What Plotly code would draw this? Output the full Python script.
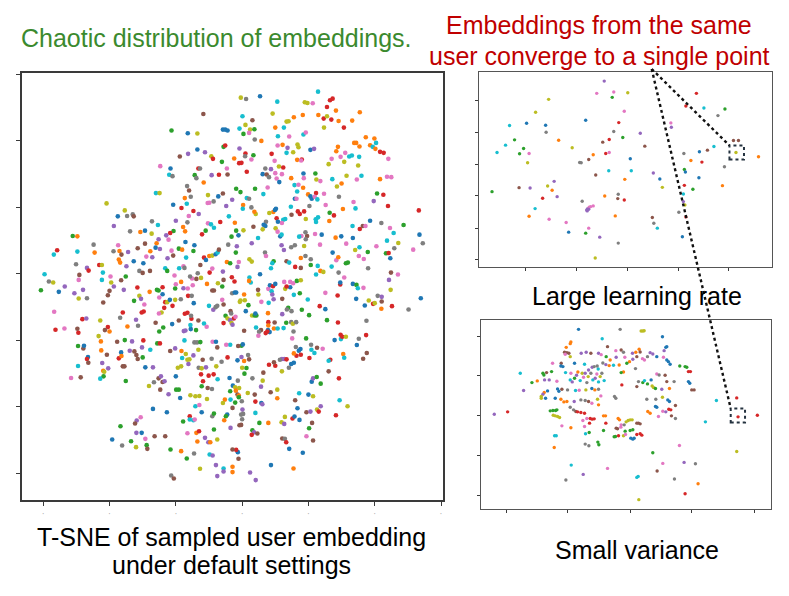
import plotly.graph_objects as go

# colour per sampled user (tab10)
PALETTE = {"b": "#1f77b4", "o": "#ff7f0e", "g": "#2ca02c", "r": "#d62728", "p": "#9467bd",
           "n": "#8c564b", "k": "#e377c2", "a": "#7f7f7f", "l": "#bcbd22", "c": "#17becf"}

# --- left: default settings ---
big_x = [
    -11.7, -21.3, -16.4, -13.5, -18.8, -16.3, -13.5, -11.2, -9.3, -8.8,
    -24.7, -21.6, -22.0, -21.0, -13.2, -12.7, -14.3, -13.8, -9.2, -7.0,
    -11.6, -16.6, -16.0, -15.5, -17.3, -10.3, -7.2, -26.0, -24.9, -20.8,
    -18.3, -16.7, -14.7, -13.1, -10.4, -9.9, -8.6, -40.9, -37.5, -35.4,
    -34.7, -33.0, -32.7, -27.2, -25.4, -20.0, -16.1, -16.5, -17.8, -17.2,
    -20.7, -21.7, -12.1, -11.0, -10.3, -9.4, -8.5, -38.7, -33.8, -30.7,
    -29.3, -27.3, -25.2, -22.2, -22.9, -25.8, -29.3, -31.5, -27.7, -26.1,
    -24.8, -21.3, -19.1, -18.1, -17.1, -14.4, -14.7, -20.8, -22.5, -16.9,
    -51.1, -49.7, -55.8, -56.8, -49.7, -44.8, -44.5, -38.8, -37.4, -37.0,
    -36.4, -34.4, -34.9, -37.2, -36.8, -32.7, -29.8, -28.9, -27.1, -50.1,
    -46.8, -43.1, -42.3, -11.5, -10.9, -9.9, -9.0, -8.0, -7.4, -12.6,
    -9.0, -7.0, -17.7, -17.4, -19.0, -23.2,
    22.9, -0.4, 1.2, 5.4, 10.6, 18.9, 19.7, 21.3, 26.5, 27.3,
    25.6, 28.3, 35.5, 33.2, 30.7, 29.1, 26.9, 24.6, 25.6, 24.7,
    23.0, 18.3, 15.6, 13.4, 14.0, 12.6, 10.0, 9.2, 0.1, 3.1,
    1.0, -0.8, 2.4, 3.7, 2.1, 0.4, 5.8, 3.8, 10.8, 14.2,
    18.5, 19.2, 16.7, 17.0, 13.7, 12.2, 10.7, 15.4, 13.4, 8.9,
    20.6, 21.7, 28.4, 28.9, 31.1, 33.8, 34.4, 35.4, 37.3, 38.6,
    39.4, 39.9, 40.4, 40.2, 41.6, 42.7, 44.1, 32.3, 33.1, 35.3,
    29.7, 27.0, 30.8, 26.1, 35.0, 16.6, 18.0, 17.8, 9.8, 11.1,
    12.4, 7.0, 8.7, 6.2, 7.4, 8.1, 10.0, 10.4, 12.0, 11.2,
    14.8, 18.5, 18.6, 22.1, 22.4, 23.6, 27.2, 30.0, 28.6, 31.5,
    34.6, 36.0, 43.7, 45.0, 41.6, 15.8, 17.0, 18.4, 16.6, 7.7,
    6.4, 19.9, 20.6, 21.0, 22.3, 21.9, 22.7, 24.7, 15.9, 16.4,
    14.7, 20.3, 25.2, 29.2, 30.4, 33.6, 34.2, 39.7, 40.7, 42.6,
    44.0, 53.3, 48.7, 42.0, 38.6, 35.5, 36.4, 37.2, 33.3, 26.4,
    27.7, 26.3, 22.2, 22.3, 22.9, 19.2, 16.8, 17.4, 18.7, 14.9,
    13.0, 12.4, 12.0, 10.4, 10.8, 9.4, 9.9, 10.2, 8.2, 7.2,
    6.5, 7.0, 6.2, 4.8, 2.9, 4.1, 3.7, 2.8, 1.4, 2.1,
    0.3, 0.2, 3.9, -0.5, -1.8, -3.0, -4.0, -2.2, -1.8, 0.4,
    -1.1, -3.2, -4.2, -1.6, -1.9, -4.6, -3.6, -1.0, -1.4, 2.2,
    2.9, 6.9, 7.2, 9.5, 9.1, 8.7, 11.9, 12.6, 14.8, 15.9,
    13.4, 14.2, 16.0, 17.7, 17.7, 19.1, 20.7, 20.7, 22.8, 27.0,
    28.4, 29.0, 27.3, 31.3, 31.9, 34.1, 35.4, 35.2, 36.7, 37.9,
    38.0, 40.5, 43.4, 44.2, 44.7, 45.9, 47.1, 43.7, 51.6, 45.7,
    44.6, 53.5, 54.5, 28.2, 29.9, 31.4, 33.4, 24.0, 22.0, 19.6,
    19.1, 19.2, 17.9, 17.2, 23.5, 18.7, 11.5, 11.9, 10.1, 10.7,
    3.4, -6.6, -4.8, -5.8, -4.6, -4.4, -6.1, -5.6, -5.1, -5.8,
    -5.1, -4.4, -0.8, 1.0, 0.9, 3.4, 2.8, -2.4, -0.2, -0.9,
    1.4,
    -59.6, -58.3, -57.0, -60.7, -55.3, -53.5, -50.6, -49.1, -49.3, -48.0,
    -49.3, -46.8, -46.3, -42.0, -42.3, -39.7, -39.5, -38.7, -40.0, -40.5,
    -41.9, -35.1, -36.5, -35.7, -31.0, -30.0, -27.8, -31.6, -27.9, -31.0,
    -30.5, -32.6, -29.5, -25.7, -25.2, -24.0, -24.0, -25.0, -23.2, -22.6,
    -21.8, -20.2, -21.0, -23.5, -24.3, -25.1, -22.6, -20.4, -20.0, -20.2,
    -18.4, -17.7, -16.4, -14.9, -15.1, -15.7, -13.8, -13.4, -12.4, -10.6,
    -9.8, -9.0, -8.5, -7.3, -18.5, -16.3, -15.2, -14.6, -19.1, -21.1,
    -26.1, -25.0, -23.8, -25.6, -24.8, -29.7, -30.3, -32.0, -31.4, -34.6,
    -36.8, -36.0, -40.5, -41.4, -40.0, -43.3, -42.8, -48.2, -47.0, -56.7,
    -56.3, -53.6, -49.7, -49.4, -49.5, -47.9, -47.7, -46.5, -46.8, -46.4,
    -49.5, -51.6, -48.7, -42.6, -42.5, -40.8, -42.2, -41.9, -41.6, -41.8,
    -42.8, -40.4, -37.7, -35.4, -36.5, -37.2, -36.4, -36.0, -35.5, -35.1,
    -33.2, -33.9, -32.5, -31.9, -31.5, -30.0, -29.8, -30.2, -27.7, -29.2,
    -26.9, -28.1, -26.6, -25.2, -24.5, -24.0, -23.4, -24.7, -21.7, -20.2,
    -20.0, -19.4, -18.4, -18.3, -18.1, -17.4, -17.0, -16.5, -15.9, -16.2,
    -14.7, -14.4, -13.6, -13.2, -12.6, -13.1, -12.2, -12.4, -11.9, -10.1,
    -10.9, -9.2, -8.6, -7.8, -8.9, -7.9, -7.5, -15.5, -15.6, -15.3,
    -13.9, -13.2, -11.5, -10.7, -17.6, -17.1, -17.3, -16.5, -15.4, -10.0,
    -8.7, -8.0, -7.5, -11.8, -12.2, -10.4, -9.1, -7.4, -19.9, -19.1,
    -18.7, -22.2, -15.6, -14.1, -12.9, -10.6, -14.1, -12.9, -12.2, -15.8,
    -15.8, -14.7, -14.3, -17.8, -26.9, -22.7, -31.8, -32.3, -30.6, -30.3,
    -31.9, -29.2, -28.8, -28.6, -32.0, -33.5, -36.2, -39.2, -36.7, -26.4,
    -23.2, -21.6, -18.4, -16.5, -16.7, -13.8, -13.0, -13.5, -11.2, -10.2,
    -9.6, -7.5, -14.5, -9.8, -8.9, -12.7, -21.4, -20.6, -7.5, -7.9,
    -8.5, -9.0, -8.5,
    -3.1, -2.3, -5.8, -5.6, -6.0, 2.2, 2.6, 2.1, 5.4, -3.0,
    -2.2, -1.8, 0.6, -0.7, -0.5, 0.8, 1.9, -5.6, -6.0, -3.5,
    -3.3, -2.5, -2.0, -5.0, -4.4, -3.6, -5.6, -3.2, -2.9, 1.1,
    3.0, 3.8, 4.3, 4.0, 4.8, 4.9, 5.8, 8.0, 7.9, 8.4,
    8.9, 9.1, 9.3, 10.0, 9.5, 12.1, 13.0, 14.5, 12.7, 14.5,
    15.4, 13.4, 16.5, 17.7, 17.4, 15.6, 19.8, 13.9, 13.5, 14.9,
    12.1, 18.0, 20.2, 7.8, 7.9, 7.9, 9.8, 9.6, 10.7, 7.8,
    8.3, 7.1, 7.6, 5.7, 5.1, 4.9, 4.2, 0.6, 13.3, 14.8,
    15.3, 16.3, 12.5, 15.5, 15.1, 16.2, 17.1, 17.6, 17.7, 16.4,
    15.6, 19.3, 20.8, 20.9, 21.8, 22.6, 20.3, 24.3, 23.4, 25.1,
    25.6, 28.9, 27.9, 29.8, 29.7, 30.2, 31.3, 35.2, 34.6, 37.4,
    30.5, 30.8, 26.6, 26.1, 36.5, 37.6, 37.5, 28.8, 29.6, 29.6,
    29.1, 30.8, 33.4, 34.5, 34.9, 34.4, 36.6, 37.0, 38.2, 39.5,
    40.0, 40.9, 42.1, 42.1, 42.0, 45.2, 50.2, 53.9, 44.8, 44.3,
    44.9, 47.0, 22.3, 23.6, 24.5, 25.1, 12.0, 12.7, 13.4, 11.4,
    14.1, 14.8, 15.6, 12.0, 10.0, 9.6, 8.1, 6.4, 6.2, 5.7,
    3.1, 0.7, 1.3, 0.0, -1.4, -0.2, 0.6, 2.1, 1.8, -0.2,
    0.2, -1.2, -3.6, -4.8, -4.4, -6.2, -3.8, -1.3, -2.8, -2.1,
    -0.9, -3.6, -1.9, -1.4, -1.0, -1.0, -0.1, 1.7, 3.8, 4.0,
    5.8, 6.1, 4.0, -3.5, -5.2, -5.8, -2.9, -2.1, 0.1, -0.3,
    0.3, -4.5, -4.9, -5.4, 0.0, -0.8, -0.3, -3.5, 3.1, 3.6,
    4.6, 2.9, 5.2, 7.9, 8.6, 10.6, 10.6, 11.9, 12.7, 12.9,
    15.2, 15.8, 17.3, 16.7, 16.0, 17.2, 20.0, 21.4, 19.4, 20.6,
    21.1, 20.2, 22.6, 23.1, 23.7, 21.0, 21.4, 22.5, 23.7, 26.1,
    29.2, 29.4, 31.8, 28.3, 12.1, 12.9, 13.3, 14.2, 19.4, 21.4,
    18.3, 8.7, 15.5, 2.4, 4.1, -2.9, -2.9, -5.6, -5.6, -1.3,
    -1.8, -2.9, -1.1,
]
big_y = [
    48.1, 43.1, 42.3, 42.2, 35.3, 36.1, 37.4, 36.6, 35.4, 34.6,
    32.4, 31.7, 29.8, 29.4, 31.7, 31.7, 29.7, 28.8, 29.7, 29.8,
    27.5, 26.4, 25.1, 23.2, 22.8, 23.7, 23.3, 24.3, 24.3, 20.8,
    19.8, 21.1, 18.9, 18.0, 21.3, 21.4, 21.8, 21.2, 17.3, 19.1,
    17.4, 17.9, 17.3, 15.8, 14.7, 16.0, 17.4, 15.5, 14.1, 12.8,
    12.9, 12.3, 11.9, 13.0, 15.2, 14.9, 13.9, 14.4, 12.8, 12.6,
    13.0, 12.1, 10.4, 10.3, 11.6, 9.2, 9.1, 7.7, 6.8, 7.9,
    7.5, 7.0, 7.6, 7.3, 9.6, 8.6, 6.9, 5.5, 4.7, 4.9,
    11.4, 11.3, 7.1, 5.8, 6.7, 8.8, 6.4, 6.8, 8.6, 6.9,
    5.8, 6.6, 2.3, 4.3, 3.4, 3.8, 3.2, 5.2, 5.0, 2.9,
    1.8, 2.7, 2.7, 4.9, 4.2, 5.4, 5.5, 5.9, 6.4, 2.7,
    1.6, 7.3, 2.3, 1.8, 1.7, 1.7,
    54.8, 53.0, 52.6, 53.4, 51.8, 51.6, 51.4, 51.3, 52.2, 52.7,
    50.2, 49.1, 48.6, 46.1, 44.0, 46.0, 46.4, 46.7, 47.4, 44.0,
    47.8, 47.8, 47.1, 45.8, 45.9, 44.0, 44.0, 48.2, 47.4, 46.2,
    44.8, 43.7, 43.4, 43.5, 42.4, 42.1, 40.0, 40.4, 41.4, 41.3,
    41.9, 42.5, 38.9, 38.1, 37.9, 38.8, 38.6, 36.6, 36.4, 36.1,
    37.3, 37.6, 36.9, 38.2, 36.4, 39.4, 39.4, 38.3, 41.1, 38.7,
    38.2, 40.7, 39.4, 37.6, 36.7, 36.4, 34.6, 35.3, 35.6, 35.2,
    35.2, 34.6, 33.7, 33.0, 32.6, 34.3, 34.4, 34.1, 34.0, 32.3,
    32.0, 31.7, 31.5, 30.0, 29.9, 29.1, 30.3, 28.7, 30.0, 27.6,
    28.8, 30.2, 28.8, 30.2, 28.4, 27.9, 28.5, 27.2, 26.3, 29.5,
    28.4, 29.5, 29.2, 29.1, 28.5, 26.7, 26.8, 25.9, 24.8, 26.0,
    24.0, 23.9, 23.3, 22.6, 24.3, 23.2, 22.4, 24.1, 22.6, 22.6,
    20.2, 20.4, 20.7, 23.2, 19.5, 21.6, 19.7, 21.9, 24.2, 23.8,
    20.4, 19.1, 14.7, 15.3, 16.0, 13.5, 14.4, 14.4, 14.4, 18.4,
    17.6, 15.9, 16.4, 15.6, 17.0, 16.5, 18.8, 18.0, 18.8, 17.8,
    16.5, 16.3, 15.3, 16.7, 15.7, 18.6, 19.2, 19.6, 18.3, 15.7,
    14.8, 14.4, 13.4, 10.8, 9.2, 18.0, 18.7, 20.0, 22.8, 22.6,
    20.7, 19.6, 25.6, 24.6, 25.6, 22.3, 17.3, 15.4, 13.0, 13.1,
    11.6, 11.2, 8.8, 8.3, 6.4, 3.6, 3.2, 3.6, 2.1, 4.4,
    3.7, 6.4, 5.4, 3.8, 3.2, 1.7, 8.6, 7.2, 8.0, 8.6,
    3.8, 3.4, 2.1, 1.8, 4.8, 5.4, 4.4, 2.7, 2.4, 2.2,
    4.1, 5.0, 6.4, 3.2, 3.4, 7.2, 8.0, 5.4, 4.5, 6.6,
    1.7, 8.3, 6.2, 6.3, 4.7, 7.7, 9.3, 10.0, 7.3, 12.3,
    13.8, 11.8, 9.2, 10.9, 11.3, 9.1, 10.8, 11.8, 12.0, 11.4,
    12.5, 10.4, 11.4, 11.2, 8.8, 8.4, 11.3, 11.8, 13.7, 12.7,
    14.2, 15.6, 20.4, 24.2, 31.7, 29.9, 33.7, 38.2, 38.6, 43.4,
    43.4, 43.1, 37.7, 36.2, 35.4, 35.7, 34.4, 34.7, 33.4, 33.3,
    30.7,
    -0.1, -2.3, -2.6, -4.9, -5.4, -3.8, -5.8, -0.3, -1.8, -4.8,
    -7.4, -7.3, 1.0, 0.4, -1.8, -0.8, -2.6, -3.8, -5.1, -6.4,
    -8.6, -0.8, -1.9, -4.8, 0.9, 0.3, 0.9, -4.1, -5.4, -6.6,
    -7.5, -8.1, -9.2, -4.8, -5.0, -4.0, -6.1, -7.1, -8.5, -8.5,
    -7.8, -7.8, -9.6, -10.2, -11.6, -11.9, 0.9, -0.5, -3.1, -4.4,
    -2.4, -4.3, -4.4, -3.4, -1.4, -0.8, -1.5, 0.2, -1.2, -3.0,
    0.4, -5.0, -5.0, -2.8, -7.6, -6.6, -6.6, -8.8, -14.0, -15.1,
    -14.7, -17.3, -16.1, -20.9, -20.9, -11.3, -11.6, -13.8, -15.6, -15.8,
    -13.2, -11.6, -16.0, -16.9, -17.3, -18.7, -14.0, -13.6, -13.4, -11.4,
    -16.8, -16.4, -16.5, -17.7, -21.7, -22.4, -21.6, -25.0, -25.6, -26.7,
    -27.7, -31.3, -31.1, -20.3, -23.0, -24.3, -26.8, -29.1, -29.4, -30.8,
    -31.5, -28.4, -20.4, -19.9, -23.6, -25.4, -24.7, -27.8, -27.8, -32.2,
    -20.3, -23.1, -23.3, -24.4, -25.6, -25.1, -20.0, -22.1, -22.8, -28.1,
    -28.1, -33.7, -32.6, -31.4, -30.8, -32.5, -32.3, -34.8, -23.2, -22.4,
    -30.8, -28.2, -27.8, -23.2, -25.3, -20.0, -24.1, -25.8, -25.7, -27.1,
    -24.5, -20.6, -20.6, -22.8, -20.5, -28.2, -28.4, -30.2, -25.8, -30.6,
    -28.1, -25.5, -30.2, -27.8, -20.4, -20.4, -22.1, -16.6, -15.4, -13.5,
    -16.9, -14.0, -14.9, -15.9, -17.2, -17.0, -12.0, -11.7, -12.6, -9.6,
    -10.8, -10.0, -9.6, -32.3, -33.8, -34.3, -34.6, -31.7, -34.8, -34.8,
    -37.3, -36.2, -36.5, -36.8, -36.7, -37.6, -39.8, -39.4, -41.6, -42.8,
    -43.8, -44.0, -43.8, -44.4, -40.6, -41.6, -44.1, -45.0, -43.1, -47.8,
    -47.8, -49.6, -51.5, -52.6, -52.1, -50.3, -51.6, -49.8, -45.8, -48.8,
    -48.8, -52.8, -53.3, -47.9, -55.5, -47.8, -47.3, -50.4, -49.3, -50.6,
    -50.6, -49.8, -54.0, -54.3, -54.6, -58.6, -60.6, -61.5, -60.8, -57.5,
    -46.8, -42.8, -42.0,
    -1.0, -2.3, 0.7, -1.8, -3.8, -1.1, -2.6, -2.1, -0.1, -5.8,
    -5.6, -5.6, -6.2, -8.4, -8.0, -7.9, -9.4, -9.2, -7.8, -11.2,
    -11.9, -13.4, -12.9, -12.6, -13.4, -13.9, -14.8, -14.8, -15.3, -11.2,
    -12.5, -12.5, -12.5, -11.9, -4.8, -6.2, -8.4, -8.7, -4.5, -3.4,
    -5.2, -6.2, -3.7, -3.0, -7.6, -7.5, -4.5, -4.0, -2.4, -2.4,
    -2.8, -3.8, -2.1, -1.9, -5.8, -6.3, -7.7, -10.2, -10.7, -11.2,
    -12.1, -10.8, -12.4, -11.8, -14.5, -15.5, -14.6, -16.4, -16.4, -16.9,
    -17.5, -17.8, -17.3, -16.9, -17.4, -18.6, -16.1, -17.1, -14.7, -14.5,
    -15.0, -14.5, -16.3, -17.3, -19.4, -22.0, -23.1, -22.6, -24.3, -24.6,
    -23.9, -19.4, -21.3, -22.8, -23.8, -22.2, -25.3, -22.5, -9.7, -10.6,
    -13.9, -14.6, -19.9, -19.6, -18.3, -18.9, -18.9, -19.5, -21.4, -18.4,
    -24.1, -25.2, -25.8, -26.1, -25.5, -23.8, -14.1, -6.5, -3.2, -2.6,
    0.4, -1.1, -3.0, -3.3, -4.3, -7.5, -4.2, -9.5, -8.0, -9.0,
    -8.8, -6.6, -6.9, -8.3, -10.5, -9.7, -10.7, -7.3, -4.8, -1.8,
    0.4, -0.2, -0.2, 0.9, 0.6, -5.7, -25.6, -25.6, -25.7, -25.8,
    -28.2, -27.1, -26.7, -29.3, -27.6, -26.6, -27.3, -29.7, -32.1, -33.9,
    -31.4, -30.0, -28.3, -28.2, -26.0, -25.0, -26.2, -25.7, -24.4, -21.6,
    -21.2, -21.7, -21.3, -21.3, -25.1, -26.4, -31.3, -32.1, -33.6, -34.1,
    -34.3, -35.3, -35.1, -36.3, -36.6, -37.1, -38.3, -35.8, -36.3, -38.4,
    -38.8, -39.2, -41.8, -37.8, -37.8, -38.8, -40.3, -38.7, -40.8, -42.3,
    -42.1, -42.3, -42.8, -44.0, -43.7, -45.5, -45.4, -46.3, -47.0, -47.6,
    -48.0, -48.4, -44.8, -44.8, -35.6, -34.8, -37.4, -44.6, -45.1, -43.0,
    -43.5, -42.9, -43.9, -40.4, -38.0, -35.9, -36.3, -36.8, -41.6, -41.4,
    -44.8, -46.4, -40.8, -41.4, -39.8, -32.4, -31.4, -31.0, -33.0, -29.3,
    -31.4, -38.0, -39.8, -42.5, -49.5, -49.6, -50.6, -52.6, -48.8, -50.1,
    -53.8, -57.5, -58.5, -59.7, -62.0, -58.0, -59.6, -58.5, -59.4, -53.6,
    -52.9, -52.8, -55.6,
]
big_user = (
    "ngblnpbplr" "kbcaragapr" "oanaolbclb" "rcrpkkalbl" "aanacpkaoo" "grrgkccpao"
    "blpkponnob" "pkgobbgnpc" "gorccaoako" "nppoobbkpa" "prlrbolbcn" "knkacc"
    "clabcllkrr" "rooororrll" "ooollcolcn" "lclgkgoack" "ckllpoklcr" "bpookooooo"
    "cocorrkccc" "kklllorkkl" "rapbnakkkb" "obkglkcoll" "kckkockock" "cobbrkckbk"
    "cakaokcpgr" "rrgabrnkcg" "roccclrrrn" "cckrbobbla" "bblcploaca" "ocgggpcogl"
    "bgapgogkpl" "lakgccppaa" "ncrnoaagcc" "kobgglckkg" "akgrbalckc" "kbaobkbbkn"
    "aakcklbclk" "nrpnknggrb" "bbpragkorr" "r"
    "calgbppnkp" "larccklpnn" "ngnpannrol" "pgkggrbkrl" "blrrlkgkkg" "opkkkanalo"
    "rnnlarabnb" "ngggrrrpao" "arrnollrpk" "rknrgnbbrn" "cknoonpolg" "cpngbronng"
    "ppnnngrpcb" "planpnpnnp" "bllocclllp" "paalgalrnr" "parlkbnbcr" "gnckpprrac"
    "paargnacgg" "bpllllckbr" "cckgbbpnkb" "pkgnlgabgn" "ngokgoropp" "olacplanpp"
    "gag"
    "rrpngccoba" "bbolllgnkn" "arkglprlpb" "lggbnlkckb" "cprbpnlbkk" "krglgccgaa"
    "pggoronocb" "brrnakcnga" "lacakabbrr" "ogaccnrkrb" "grbcrrlabr" "ocrcnnarrb"
    "akbgcbkblr" "lapnorablp" "nkcolkppra" "abblrnrnlp" "agglbponag" "bnckrababl"
    "lgonogalnr" "bpccolngpa" "abgoannpgp" "nrgonlolpl" "rbbbncblnp" "nglrpbpggn"
    "rclrnarbkn" "bboppoocpb" "rnn"
)

# --- top right: large learning rate ---
lr_x = [
    -4.6, -6.1, -2.7, 0.1, -3.0, -15.7, -18.3, -0.6, -8.3, -1.7,
    -20.1, -16.3, -23.5, -16.2, -2.7, 2.6, -0.9, -22.5, -13.7, -3.6,
    -4.9, -24.3, -20.7, -11.0, 3.5, -26.0, -21.5, -19.6, -3.6, -4.3,
    -6.8, -7.7, -9.5, -9.2, -19.9, 0.6, -3.7, 0.8, -6.3, -0.5,
    5.2, 6.5, 7.0, -14.6, -21.6, -19.4, -15.9, -15.0, -27.0, -16.9,
    -14.0, -4.5, -1.8, -1.9, -0.6, -9.0, -8.1, -7.9, -7.6, -7.3,
    -6.8, -8.0, -7.7, -18.4, -19.6, -2.4, -15.6, -12.2, -11.7, -8.3,
    -7.7, -5.5, -1.8, -6.4, 5.0, 5.3, 6.0, 8.7, 8.8, 11.3,
    11.4, 11.6, 12.7, 14.4, 16.0, 14.9, 13.8, 11.7, 15.3, 19.5,
    18.1, 17.3, 21.2, 22.2, 21.7, 26.2, 19.4, 14.3, 11.4, 13.1,
    19.0, 11.2, 11.2, 11.5, 10.3, 11.7, 11.0,
]
lr_y = [
    25.0, 21.3, 21.7, 21.5, 20.1, 19.5, 15.6, 15.9, 13.2, 12.5,
    12.3, 11.7, 11.6, 9.6, 9.8, 9.3, 8.0, 7.3, 7.2, 7.4,
    6.6, 5.7, 4.7, 4.9, 5.4, 3.5, 3.1, 3.2, 3.5, 3.2,
    2.8, 1.4, 0.5, 0.4, 0.4, 1.6, -2.0, -2.0, -3.3, -4.6,
    -2.7, -4.5, -7.0, -5.2, -7.1, -7.2, -6.6, -7.9, -8.3, -10.3,
    -9.8, -9.6, -9.1, -10.4, -10.8, -11.2, -13.8, -13.4, -13.0, -12.8,
    -12.6, -14.1, -13.6, -13.4, -15.7, -15.6, -16.6, -17.6, -20.5, -20.8,
    -19.3, -22.0, -23.8, -28.3, -16.1, -17.8, -19.3, 12.4, 11.1, 3.2,
    -1.6, -2.4, 1.1, 3.7, 4.2, 0.6, 21.3, 17.5, 16.9, 16.6,
    14.6, 5.3, 7.1, 7.1, 3.5, 2.2, -0.8, -4.1, -6.4, -7.6,
    -6.5, -9.0, -11.3, -12.3, -14.5, -15.9, -21.9,
]
lr_user = "pkklgllkbr" "bbcaapggor" "ncglncgkkr" "onaalbccno" "pblpnplogr" \
          "poanrappkk" "kppcookkbg" "kpalnackpa" "gbobnrrrcg" "acnnloabrg" "ocplarb"

# --- bottom right: small variance ---
sv_x = [
    -7.75, -1.5, 1.65, 1.9, 2.1, -4.2, 4.85, -8.9, -9.0, -9.6,
    -3.4, 5.35, 5.5, 5.1, -9.85, -9.5, -9.2, -9.75, -9.0, -7.35,
    -6.6, -5.9, -4.75, -4.35, -2.15, -1.35, -1.0, 0.35, 0.85, 1.35,
    1.5, 1.0, 3.0, 3.4, 2.6, 1.85, 2.15, 4.0, 5.0, 5.5,
    5.75, 6.0, -3.6, -3.0, -2.1, -0.8, -0.1, 0.4, -8.35, -6.85,
    -5.7, -5.4, -4.8, -4.95, -6.25, -4.1, -3.65, -3.15, -2.5, -1.65,
    -0.5, 0.8, -1.0, -1.35, -11.65, -10.35, -10.4, -10.1, -9.7, -11.8,
    -12.55, -12.95, -13.1, -8.9, -7.85, -7.2, -8.05, -8.35, -9.0, -8.7,
    -7.5, -7.0, -6.3, -5.9, -5.6, -5.25, -5.0, -4.75, -4.25, -3.9,
    -4.5, -6.75, -6.5, -16.5, -14.75, -13.95, -12.85, -12.15, -11.0, -16.0,
    -12.9, -12.4, -13.1, -13.35, -13.35, -12.7, -10.9, -10.7, -10.25, -11.25,
    -10.4, -9.95, -9.5, -9.4, -8.2, -7.65, -6.65, -5.75, -5.3, -4.75,
    -2.35, -2.15, -4.4, -4.9, -7.4, -6.75, -6.25, -5.75, -4.75, -8.4,
    -9.0, -1.25, 1.0, 1.25, 1.9, 2.15, 2.6, 3.15, 3.3, 3.5,
    3.8, 4.0, 4.35, 4.75, 5.5, 5.25, 5.9, 6.6, 2.5, 3.85,
    4.85, 5.65, 5.9, 6.8, 7.45, 8.25, 8.5, 8.75, 9.05, 8.75,
    8.95, 9.25, 9.6, -12.0, -11.6, -11.2, -11.0, -11.55, -11.25, -10.9,
    -10.6, -10.25, -8.9, -8.5, -8.15, -7.9, -7.4, -6.85, -7.1, -6.5,
    -6.0, -5.7, -5.4, -6.1, -6.85, -4.0, -3.7, -3.65, -4.0, -1.8,
    -1.6, -2.1, -1.9, -1.4, -1.35, -0.9, -0.6, -0.3, 0.0, 0.3,
    -0.75, 0.0, 0.4, -2.4, -2.2, -1.75, -1.0, -0.7, 1.0, 1.25,
    1.5, 0.1, 0.4, 0.6, 1.0, 1.5, 1.75, 2.65, 3.0, 3.8,
    4.0, 4.25, 4.9, 5.35, 5.8, 6.1, 6.2, 6.8, -11.35, -11.1,
    -6.7, -6.15, -4.85, -4.7, -6.75, -6.2, -11.4, -8.85, -20.4, -18.4,
    12.95, 11.3, 16.0, 16.2, 19.1, 16.0, 7.4, 3.4, 4.9, 8.1,
    9.8, 4.05, 6.65, 1.0, 1.2, -3.4, -7.05, -9.65, 10.2, 8.25,
    1.3,
]
sv_y = [
    26.0, 26.0, 25.5, 25.5, 25.6, 23.2, 23.8, 22.2, 21.7, 20.6,
    20.8, 20.6, 20.8, 19.6, 19.1, 19.0, 18.8, 18.5, 17.8, 18.8,
    19.1, 18.8, 18.8, 18.4, 19.6, 19.8, 19.1, 18.8, 19.1, 20.0,
    19.2, 17.8, 19.0, 18.6, 17.8, 17.2, 16.8, 17.8, 17.6, 16.8,
    16.3, 15.5, 17.8, 16.8, 17.6, 17.6, 16.3, 17.0, 15.8, 15.5,
    14.6, 14.8, 14.1, 15.0, 13.8, 15.9, 15.4, 15.1, 15.2, 15.3,
    15.8, 14.2, 13.2, 13.0, 15.8, 15.8, 15.0, 14.8, 13.0, 13.3,
    13.0, 12.3, 12.8, 12.8, 13.2, 12.8, 12.2, 11.3, 10.8, 10.2,
    10.6, 11.6, 11.8, 12.8, 10.8, 11.3, 12.6, 10.2, 12.8, 10.6,
    11.8, 12.8, 10.0, 12.8, 10.0, 10.5, 10.8, 10.8, 10.4, 7.6,
    7.0, 7.5, 6.5, 5.8, 5.3, 5.3, 8.1, 7.4, 8.0, 5.3,
    5.0, 4.2, 4.3, 7.8, 7.6, 7.7, 7.8, 8.2, 7.8, 8.0,
    5.8, 5.3, 6.0, 5.0, 4.8, 4.6, 4.3, 3.8, 3.3, 4.3,
    2.6, 9.3, 8.8, 10.3, 10.0, 10.6, 9.6, 10.8, 9.0, 8.5,
    8.2, 12.6, 12.3, 8.0, 10.3, 12.2, 8.2, 10.3, 5.0, 5.0,
    5.6, 4.8, 4.3, 3.1, 15.0, 14.8, 14.6, 13.3, 13.3, 10.3,
    9.8, 7.8, 7.8, 1.5, 1.6, 1.6, 1.8, 0.2, 0.0, -0.2,
    -0.5, -3.0, -3.6, 1.8, 1.3, 1.2, 1.0, 0.8, -1.4, -0.8,
    -0.8, -1.0, -0.9, -2.2, -3.2, 0.0, 0.0, -2.2, -4.4, -0.8,
    -1.2, -3.7, -3.9, -3.4, -2.7, -2.7, -1.8, -1.4, -1.2, -1.2,
    -4.6, -4.4, -4.2, -6.3, -6.2, -6.0, -6.0, -5.6, -2.2, -2.2,
    -2.4, -6.7, -7.0, -6.7, -5.6, -5.4, -5.8, 1.3, 0.8, 2.8,
    2.6, -0.2, 1.4, 1.2, 2.0, 1.8, 0.0, -0.8, -6.0, -6.0,
    -5.4, -5.0, -7.9, -8.7, -8.5, -9.0, -9.5, -14.8, 0.5, 1.2,
    4.6, -1.8, 5.4, -0.3, 0.2, -10.7, -8.9, -11.1, -14.3, -14.0,
    -14.4, -16.6, -19.0, -18.5, -18.2, -15.8, -17.6, -19.3, -20.4, -23.4,
    -25.2,
]
sv_user = (
    "balllcbooo" "nbbpnnnklp" "pnpkknapoo" "nnppakkbkb" "bbgopkopbc" "pacapapoco"
    "gaogknbbcg" "nggkolpgcp" "cklacpkcac" "lpacgoppkp" "obpllbbbnb" "oooacklboa"
    "aaklaankop" "arnagcgbll" "gkapnnoaaa" "lbbngggrrb" "bnngggglll" "lkoanrrrkk"
    "rrrrkoorgo" "onnkkallll" "gggggrlknn" "nbbbrrroob" "bkkprrnacc" "cgggaaocpr"
    "ccrrrlkgkp" "anacckpaor" "l"
)

# the same user's embeddings, framed in both right panels
lr_box_x = [20.4, 23.3]
lr_box_y = [1.4, 5.6]
sv_box_x = [15.1, 17.25]
sv_box_y = [-2.0, 2.2]

for xs, ys, us in ((big_x, big_y, big_user), (lr_x, lr_y, lr_user), (sv_x, sv_y, sv_user)):
    assert len(xs) == len(ys) == len(us), (len(xs), len(ys), len(us))

W, H = 789, 596
FONT = "Liberation Sans, Arial, sans-serif"

# axis domains (paper) and ranges (data)
AX = {
    "1": ([0.0279, 0.5615], [-66.4, 60.6], [0.161, 0.878], [-68.0, 60.5]),
    "2": ([0.6071, 0.9785], [-29.6, 28.9], [0.552, 0.879], [-31.0, 27.7]),
    "3": ([0.6096, 0.9772], [-22.4, 21.15], [0.146, 0.463], [-28.0, 28.8]),
}
TICKS = {
    "1": ([-60, -40, -20, 0, 20, 40, 60], [-60, -40, -20, 0, 20, 40, 60]),
    "2": ([-20.3, -10.15, 0, 10.15, 20.3], [-28.8, -19.3, -9.6, 0, 9.6, 19.2]),
    "3": ([-18.6, -9.35, 0, 9.25, 18.6], [-24, -12, 0, 12, 24]),
}


def to_paper(panel, xv, yv):
    xd, xr, yd, yr = AX[panel]
    px = xd[0] + (xv - xr[0]) / (xr[1] - xr[0]) * (xd[1] - xd[0])
    py = yd[0] + (yv - yr[0]) / (yr[1] - yr[0]) * (yd[1] - yd[0])
    return px, py


fig = go.Figure()
panels = [("1", big_x, big_y, big_user, 4.6), ("2", lr_x, lr_y, lr_user, 3.4), ("3", sv_x, sv_y, sv_user, 3.4)]
for key, xs, ys, us, size in panels:
    suffix = "" if key == "1" else key
    fig.add_trace(go.Scatter(
        x=xs, y=ys, mode="markers",
        xaxis="x" + suffix, yaxis="y" + suffix,
        marker=dict(size=size, color=[PALETTE[u] for u in us], line=dict(width=0)),
        hoverinfo="skip", showlegend=False,
    ))

layout = dict(width=W, height=H, autosize=False, margin=dict(l=0, r=0, t=0, b=0),
              paper_bgcolor="white", plot_bgcolor="white", showlegend=False)
for key in AX:
    xd, xr, yd, yr = AX[key]
    suffix = "" if key == "1" else key
    big = key == "1"
    common = dict(showgrid=False, zeroline=False, showline=True, mirror=True,
                  linecolor="#3a3a3a" if big else "#555555", linewidth=1.6 if big else 1,
                  ticks="outside", ticklen=4 if big else 3, tickcolor="#3a3a3a", tickwidth=1)
    layout["xaxis" + suffix] = dict(common, domain=xd, range=xr, tickvals=TICKS[key][0],
                                    showticklabels=big, ticktext=["·"] * len(TICKS[key][0]),
                                    tickfont=dict(size=9, color="#aaaaaa"),
                                    anchor="y" + suffix)
    layout["yaxis" + suffix] = dict(common, domain=yd, range=yr, tickvals=TICKS[key][1],
                                    showticklabels=False, anchor="x" + suffix)
fig.update_layout(**layout)

# dotted frames round the converged user
box_line = dict(color="#24323f", width=2, dash="dot")
fig.add_shape(type="rect", xref="x2", yref="y2", x0=lr_box_x[0], x1=lr_box_x[1],
              y0=lr_box_y[0], y1=lr_box_y[1], line=box_line)
fig.add_shape(type="rect", xref="x3", yref="y3", x0=sv_box_x[0], x1=sv_box_x[1],
              y0=sv_box_y[0], y1=sv_box_y[1], line=box_line)

# pointers from the red note to both frames
start = (651.7 / W, 1 - 69 / H)
for panel, bx, by in (("2", lr_box_x[0], lr_box_y[1]), ("3", sv_box_x[0], sv_box_y[1])):
    ex, ey = to_paper(panel, bx, by)
    fig.add_shape(type="line", xref="paper", yref="paper", x0=start[0], y0=start[1],
                  x1=ex, y1=ey, line=dict(color="#111111", width=2.4, dash="dot"))


def note(text, cx, cy, size, color="#000000"):
    fig.add_annotation(text=text, x=cx / W, y=1 - cy / H, xref="paper", yref="paper",
                       xanchor="center", yanchor="middle", showarrow=False,
                       font=dict(family=FONT, size=size, color=color))


note("Chaotic distribution of embeddings.", 216.5, 38, 25, "#3b8a2e")
note("Embeddings from the same", 599, 25, 25, "#c00000")
note("user converge to a single point", 599, 56, 25, "#c00000")
note("Large learning rate", 637, 296, 25)
note("Small variance", 637, 550, 25)
note("T-SNE of sampled user embedding", 231, 537, 25)
note("under default settings", 231, 565, 25)

# page body has a default 8px margin; drop it so the figure sits at the window corner
fig.write_html("out.html", config={"displayModeBar": False},
               post_script="document.body.style.margin='0';document.body.style.overflow='hidden';")
